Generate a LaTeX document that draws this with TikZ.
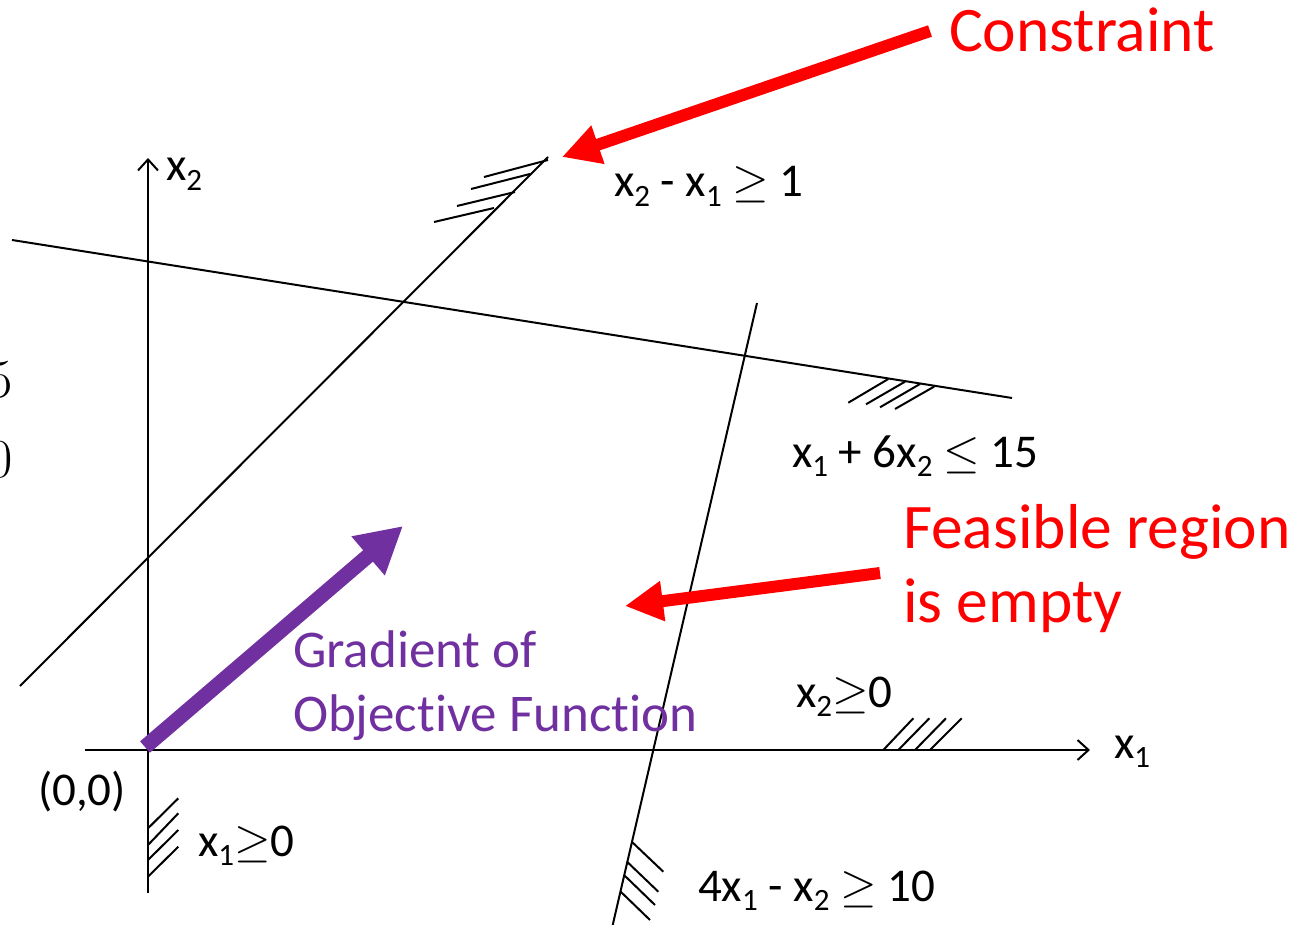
\RequirePackage{fix-cm}
\documentclass[tikz,border=0pt]{standalone}
\usepackage{fontspec}
\setmainfont[Ligatures=NoCommon]{Carlito}
\usepackage{graphicx}
\usetikzlibrary{arrows.meta}
\newcommand\sbs[1]{\raisebox{-0.2em}{\scalebox{0.66}{#1}}}
\definecolor{redA}{RGB}{255,0,0}
\definecolor{purp}{RGB}{112,48,160}
\begin{document}
\begin{tikzpicture}[x=1pt,y=-1pt,line width=2pt,
  axisline/.style={-{Straight Barb[length=11pt,width=20pt,line width=2pt]}},
  hatch/.style={line width=2pt},
  redarrow/.style={draw=redA,line width=12pt,-{Triangle[length=38pt,width=38pt]}},
  purparrow/.style={draw=purp,line width=15pt,-{Triangle[length=46pt,width=48pt]}},
  lbl/.style={inner sep=0pt,anchor=base west,font=\fontsize{47}{54}\selectfont},
  redlbl/.style={inner sep=0pt,anchor=base west,text=redA,font=\fontsize{63.5}{74}\selectfont},
  purlbl/.style={inner sep=0pt,anchor=base west,text=purp,font=\fontsize{53}{64}\selectfont},
  cutnum/.style={inner sep=0pt,anchor=base east,font=\fontsize{55}{60}\selectfont}]
\useasboundingbox (0,0) rectangle (1309,925);

% axes
\coordinate (x2b) at (148,893);
\coordinate (x2t) at (148,158);
\coordinate (x1l) at (85,750);
\coordinate (x1r) at (1090,750);
\draw[axisline] (x2b) -- (x2t);
\draw[axisline] (x1l) -- (x1r);

% constraint lines
\coordinate (a1) at (20,686);
\coordinate (a2) at (548,157);
\coordinate (b1) at (12,240);
\coordinate (b2) at (1012,398);
\coordinate (c1) at (757,303);
\coordinate (c2) at (612,928);
\draw (a1) -- (a2);
\draw (b1) -- (b2);
\draw (c1) -- (c2);

% hatches
\draw[hatch] (548,160) -- (484,177);
\draw[hatch] (530,174) -- (471,189);
\draw[hatch] (515,192) -- (457,206);
\draw[hatch] (494,208) -- (434,222);

\draw[hatch] (888.3,379) -- (848.3,402.7);
\draw[hatch] (905,381.7) -- (866,404.3);
\draw[hatch] (920,384) -- (880,407.3);
\draw[hatch] (934.3,386.5) -- (895,409);

\draw[hatch] (883.3,750) -- (913.3,718.3);
\draw[hatch] (898.3,750) -- (929.3,718.3);
\draw[hatch] (915,750) -- (946,718.3);
\draw[hatch] (930,750) -- (961.7,718.3);

\draw[hatch] (148,828.3) -- (178.3,798.3);
\draw[hatch] (148,845) -- (178.3,813.3);
\draw[hatch] (148,860) -- (178.3,830);
\draw[hatch] (148,876.7) -- (178.3,846.7);

\draw[hatch] (631.7,841.7) -- (663.3,871.7);
\draw[hatch] (627,861.7) -- (658.3,891.7);
\draw[hatch] (624,875) -- (655,905);
\draw[hatch] (620.7,891.7) -- (650,920);

% arrows
\coordinate (cs) at (930,31);
\coordinate (ct) at (562,157);
\draw[redarrow] (cs) -- (ct);
\coordinate (fs) at (880,573);
\coordinate (ft) at (625,606);
\draw[redarrow] (fs) -- (ft);
\coordinate (gs) at (145,747);
\coordinate (gt) at (403,526);
\draw[purparrow] (gs) -- (gt);

% labels
\node[redlbl] (lc) at (948,52) {Constraint};
\node[redlbl] (lf1) at (902,548) {Feasible region};
\node[redlbl] (lf2) at (902,622) {is empty};
\node[purlbl] (lg1) at (292,667) {Gradient of};
\node[purlbl] (lg2) at (292,731) {Objective Function};

\node[lbl] (lx2) at (165,181) {x\sbs{2}};
\node[lbl] (lx1) at (1113,758) {x\sbs{1}};
\node[lbl] (lo) at (37,805) {(0,0)};
\node[lbl] (lca) at (613,197) {x\sbs{2} - x\sbs{1} $\geq$ 1};
\node[lbl] (lcb) at (791,467) {x\sbs{1} + 6x\sbs{2} $\leq$ 15};
\node[lbl] (lcc) at (697,901) {4x\sbs{1} - x\sbs{2} $\geq$ 10};
\node[lbl] (lp2) at (795,707) {x\sbs{2}$\geq$0};
\node[lbl] (lp1) at (197,856) {x\sbs{1}$\geq$0};

\node[cutnum] (n5) at (14,397) {$5$};
\node[cutnum] (n0) at (14,477) {$0$};
\end{tikzpicture}
\end{document}
